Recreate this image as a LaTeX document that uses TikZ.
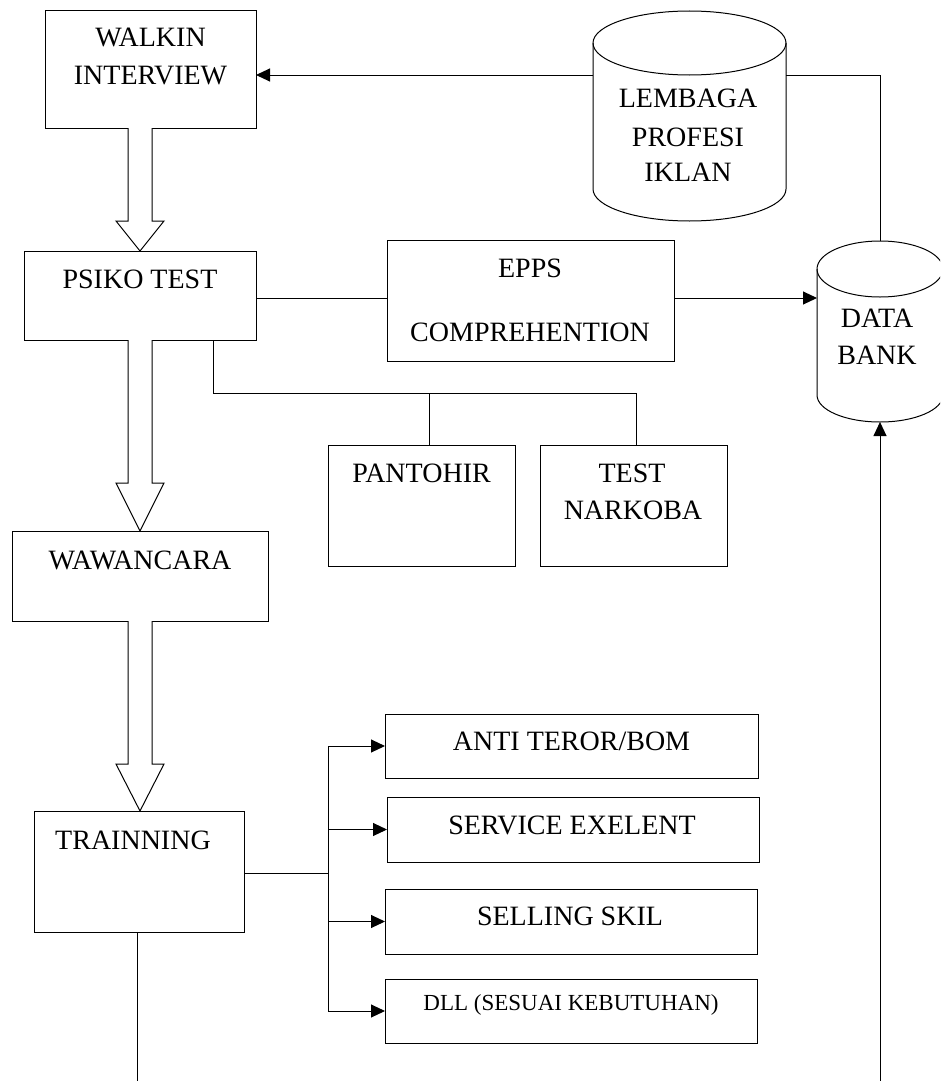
\documentclass[tikz,border=0pt]{standalone}
\usepackage{fontspec}
\setmainfont{Liberation Serif}
\usetikzlibrary{arrows.meta,calc}
\tikzset{
  box/.style={draw, line width=1pt, inner sep=0pt, outer sep=0pt},
  ghost/.style={inner sep=0pt, outer sep=0pt},
  txt/.style={inner sep=0pt, anchor=base, font=\fontsize{28}{37}\selectfont},
  smalltxt/.style={inner sep=0pt, anchor=base, font=\fontsize{23}{28}\selectfont},
  conn/.style={line width=1pt},
  arr/.style={line width=1pt, -{Triangle[length=14pt,width=13pt]}},
  hollow/.style={line width=1pt, line join=miter, fill=white},
}
\newcommand\myharrow[3]{%
  \draw[hollow] ($(#1)+(-12,0)$) -- ($(#2)+(-12,-#3)$) -- ($(#2)+(-24,-#3)$) -- (#2)
    -- ($(#2)+(24,-#3)$) -- ($(#2)+(12,-#3)$) -- ($(#1)+(12,0)$);}
\begin{document}
\begin{tikzpicture}[x=1pt,y=-1pt]
\useasboundingbox (0,0) rectangle (940,1081);
\clip (0,0) rectangle (940,1081);
\fill[white] (0,0) rectangle (940,1081);

% boxes
\node[box, minimum width=211pt, minimum height=117pt] (walkin) at (150.5,69.5) {};
\node[box, minimum width=232pt, minimum height=89pt] (psiko) at (140,295.5) {};
\node[box, minimum width=287pt, minimum height=121pt] (epps) at (530.5,300.5) {};
\node[box, minimum width=187pt, minimum height=121pt] (pantohir) at (421.5,505.5) {};
\node[box, minimum width=187pt, minimum height=121pt] (narkoba) at (633.5,505.5) {};
\node[box, minimum width=256pt, minimum height=90pt] (wawancara) at (140,576) {};
\node[box, minimum width=210pt, minimum height=121pt] (trainning) at (139,871.5) {};
\node[box, minimum width=373pt, minimum height=64pt] (anti) at (571.5,746) {};
\node[box, minimum width=372pt, minimum height=65pt] (service) at (573,829.5) {};
\node[box, minimum width=372pt, minimum height=65pt] (selling) at (571,921.5) {};
\node[box, minimum width=372pt, minimum height=64pt] (dll) at (571,1011) {};

% cylinders (named frames + drawn outlines)
\node[ghost, minimum width=193pt, minimum height=210pt] (lembaga) at (689.5,116) {};
\node[ghost, minimum width=126pt, minimum height=181pt] (databank) at (880,331.5) {};
\draw[line width=1pt] (593,43) -- (593,189)
  .. controls (593,206.7) and (636.2,221) .. (689.5,221)
  .. controls (742.8,221) and (786,206.7) .. (786,189) -- (786,43);
\draw[line width=1pt] (689.5,43) ellipse [x radius=96.5pt, y radius=32pt];
\draw[line width=1pt] (817,269) -- (817,395)
  .. controls (817,409.9) and (845.2,422) .. (880,422)
  .. controls (914.8,422) and (943,409.9) .. (943,395) -- (943,269);
\draw[line width=1pt] (880,269) ellipse [x radius=63pt, y radius=28pt];

% labels
\node[txt] (tWalkin) at (150.5,46.2) {WALKIN};
\node[txt] (tInterview) at (150.5,84.2) {INTERVIEW};
\node[txt] (tLembaga) at (688,107.2) {LEMBAGA};
\node[txt] (tProfesi) at (688,146.2) {PROFESI};
\node[txt] (tIklan) at (688,181.5) {IKLAN};
\node[txt] (tPsiko) at (140,288.2) {PSIKO TEST};
\node[txt] (tEpps) at (530,277.2) {EPPS};
\node[txt] (tCompre) at (530,341.2) {COMPREHENTION};
\node[txt] (tData) at (877,327.2) {DATA};
\node[txt] (tBank) at (877,364.7) {BANK};
\node[txt] (tPantohir) at (421.5,482.2) {PANTOHIR};
\node[txt] (tTest) at (632,482.2) {TEST};
\node[txt] (tNarkoba) at (633,519.2) {NARKOBA};
\node[txt] (tWawancara) at (140,569.2) {WAWANCARA};
\node[txt] (tTrainning) at (133,849.2) {TRAINNING};
\node[txt] (tAnti) at (571.5,750.2) {ANTI TEROR/BOM};
\node[txt] (tService) at (572,834.2) {SERVICE EXELENT};
\node[txt] (tSelling) at (570,925.2) {SELLING SKIL};
\node[smalltxt] (tDll) at (571,1010.5) {DLL (SESUAI KEBUTUHAN)};

% junction coordinates
\coordinate (j1) at (880,75);
\coordinate (j2) at (0,298);
\coordinate (j3) at (213,393);
\coordinate (j4) at (429,393);
\coordinate (j5) at (636,393);
\coordinate (b0) at (328,873);
\coordinate (e1) at (137,1081);
\coordinate (e2) at (880,1081);

% connectors
\draw[arr] (lembaga.west |- j1) -- (walkin.east |- j1);
\draw[conn] (lembaga.east |- j1) -- (j1) -- (databank.north);
\draw[conn] (psiko.east |- j2) -- (epps.west |- j2);
\draw[arr] (epps.east |- j2) -- (databank.west |- j2);
\draw[conn] (psiko.south -| j3) -- (j3) -- (j5) -- (narkoba.north -| j5);
\draw[conn] (j4) -- (pantohir.north -| j4);
\draw[conn] (trainning.east |- b0) -- (b0);
\draw[conn] (b0 |- anti.west) -- (b0 |- dll.west);
\draw[arr] (b0 |- anti.west) -- (anti.west);
\draw[arr] (b0 |- service.west) -- (service.west);
\draw[arr] (b0 |- selling.west) -- (selling.west);
\draw[arr] (b0 |- dll.west) -- (dll.west);
\draw[conn] (trainning.south -| e1) -- (e1);
\draw[arr] (e2) -- (databank.south);

% hollow block arrows
\coordinate (h1t) at (psiko.north |- walkin.south);
\coordinate (h1p) at (psiko.north);
\coordinate (h2t) at (psiko.south);
\coordinate (h2p) at (wawancara.north);
\coordinate (h3t) at (wawancara.south);
\coordinate (h3p) at (wawancara.south |- trainning.north);
\myharrow{h1t}{h1p}{30}
\myharrow{h2t}{h2p}{48}
\myharrow{h3t}{h3p}{47}
\end{tikzpicture}
\end{document}
